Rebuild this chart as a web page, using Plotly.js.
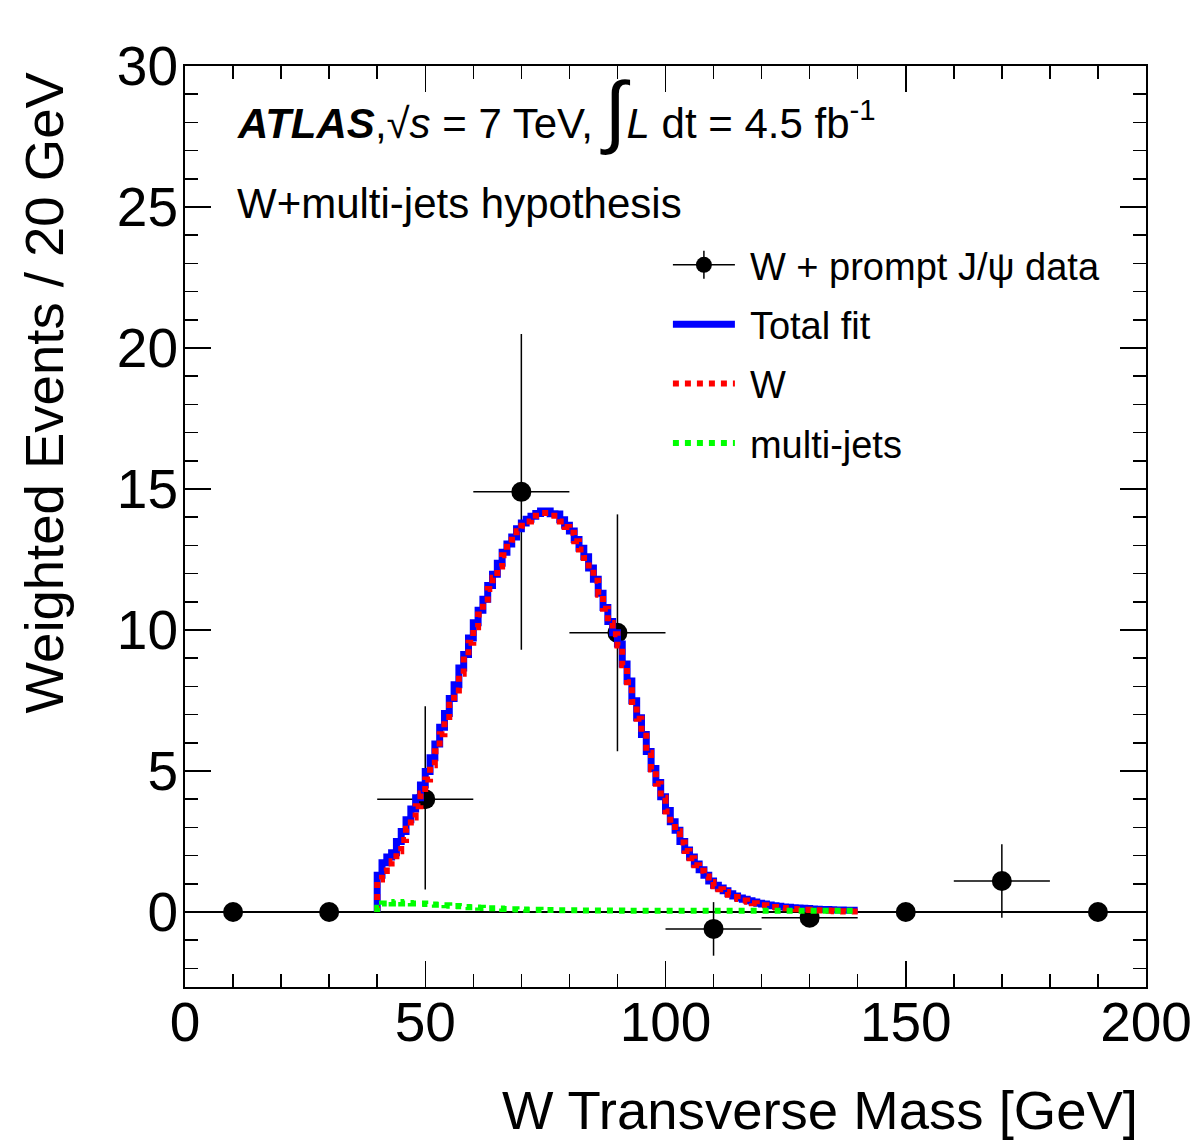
<!DOCTYPE html>
<html>
<head>
<meta charset="utf-8">
<script src="https://cdn.plot.ly/plotly-3.0.1.min.js"></script>
<style>html,body{margin:0;padding:0;background:#fff;}</style>
</head>
<body>
<div id="chart" style="width:1198px;height:1143px;"></div>
<script>
// ---- Data: W + prompt J/psi (weighted events / 20 GeV) ----
const dataMT = [10, 30, 50, 70, 90, 110, 130, 150, 170, 190];
const dataY = [0, 0, 4.0, 14.9, 9.9, -0.6, -0.2, 0, 1.1, 0];
const dataErrUp = [0, 0, 3.3, 5.6, 4.2, 0.95, 0.3, 0, 1.3, 0];
const dataErrDown = [0, 0, 3.2, 5.6, 4.2, 0.95, 0.3, 0, 1.3, 0];
const dataBinHalfWidth = 10;

// ---- Fit templates: 1 GeV bins from 40 to 140 GeV ----
const fitLowEdge = 40;
const fitBinWidth = 1;
const wFit = [
  1.15, 1.45, 1.6, 1.8, 2.15, 2.55, 2.95, 3.35, 3.75, 4.2,
  4.7, 5.2, 5.7, 6.3, 6.8, 7.35, 7.85, 8.45, 8.95, 9.55,
  10.1, 10.55, 10.95, 11.45, 11.85, 12.25, 12.65, 12.95, 13.2, 13.5,
  13.7, 13.85, 13.95, 14.05, 14.15, 14.15, 14.05, 14.05, 13.85, 13.65,
  13.45, 13.15, 12.85, 12.55, 12.15, 11.75, 11.25, 10.75, 10.25, 9.85,
  9.45, 8.75, 8.15, 7.45, 6.85, 6.25, 5.65, 5.05, 4.55, 4.05,
  3.56, 3.16, 2.86, 2.46, 2.16, 1.91, 1.66, 1.46, 1.26, 1.06,
  0.91, 0.81, 0.71, 0.61, 0.53, 0.46, 0.41, 0.36, 0.31, 0.27,
  0.24, 0.21, 0.18, 0.16, 0.14, 0.13, 0.11, 0.1, 0.09, 0.08,
  0.07, 0.06, 0.05, 0.05, 0.04, 0.03, 0.03, 0.02, 0.02, 0.02
];
const mjFit = [
  0.15, 0.3, 0.35, 0.3, 0.35, 0.3, 0.32, 0.3, 0.3, 0.3,
  0.28, 0.27, 0.26, 0.25, 0.24, 0.22, 0.21, 0.2, 0.18, 0.17,
  0.16, 0.15, 0.14, 0.13, 0.13, 0.12, 0.11, 0.1, 0.1, 0.09,
  0.09, 0.08, 0.08, 0.08, 0.07, 0.07, 0.07, 0.06, 0.06, 0.06,
  0.06, 0.06, 0.05, 0.05, 0.05, 0.05, 0.05, 0.05, 0.05, 0.05,
  0.05, 0.04, 0.04, 0.04, 0.04, 0.04, 0.04, 0.04, 0.04, 0.04,
  0.04, 0.04, 0.04, 0.04, 0.04, 0.04, 0.04, 0.04, 0.04, 0.04,
  0.04, 0.04, 0.04, 0.04, 0.04, 0.04, 0.04, 0.04, 0.04, 0.04,
  0.04, 0.04, 0.04, 0.04, 0.04, 0.04, 0.04, 0.04, 0.04, 0.04,
  0.04, 0.04, 0.04, 0.04, 0.04, 0.04, 0.04, 0.04, 0.04, 0.04
];

const xTickVals = [0, 50, 100, 150, 200];
const yTickVals = [0, 5, 10, 15, 20, 25, 30];

// ---- helpers ----
function stepTrace(values) {
  const xs = [fitLowEdge], ys = [0];
  for (let i = 0; i < values.length; i++) {
    xs.push(fitLowEdge + i * fitBinWidth);
    ys.push(values[i]);
  }
  xs.push(fitLowEdge + values.length * fitBinWidth);
  ys.push(values[values.length - 1]);
  return {x: xs, y: ys};
}
const totalFit = wFit.map((v, i) => v + mjFit[i]);

// data points interleaved with gaps so the legend shows a line through the marker
const dX = [], dY = [], dUp = [], dDn = [];
dataMT.forEach((x, i) => {
  dX.push(x); dY.push(dataY[i]); dUp.push(dataErrUp[i]); dDn.push(dataErrDown[i]);
  dX.push(null); dY.push(null); dUp.push(0); dDn.push(0);
});

const FONT = 'Liberation Sans, Arial, Helvetica, sans-serif';

const sTotal = stepTrace(totalFit);
const sW = stepTrace(wFit);
const sMJ = stepTrace(mjFit);

const traces = [
  {
    name: 'W + prompt J/ψ data', x: dX, y: dY, type: 'scatter', mode: 'lines+markers',
    connectgaps: false,
    line: {color: 'black', width: 1.5},
    marker: {color: 'black', size: 20, symbol: 'circle'},
    error_y: {type: 'data', array: dUp, arrayminus: dDn, symmetric: false, width: 0, thickness: 1.5, color: 'black'},
    error_x: {type: 'constant', value: dataBinHalfWidth, width: 0, thickness: 1.5, color: 'black'},
    legendgroup: 'a', hoverinfo: 'x+y'
  },
  {
    name: 'Total fit', x: sTotal.x, y: sTotal.y, type: 'scatter', mode: 'lines',
    line: {color: '#0000ff', width: 7, shape: 'hv'}, legendgroup: 'b'
  },
  {
    name: 'W', x: sW.x, y: sW.y, type: 'scatter', mode: 'lines',
    line: {color: '#ff0000', width: 6, shape: 'hv', dash: 'dot'}, legendgroup: 'c'
  },
  {
    name: 'multi-jets', x: sMJ.x, y: sMJ.y, type: 'scatter', mode: 'lines',
    line: {color: '#00ff00', width: 6, shape: 'hv', dash: 'dot'}, legendgroup: 'd'
  }
];

const layout = {
  width: 1198, height: 1143,
  margin: {l: 185, r: 52, t: 66, b: 156},
  paper_bgcolor: '#fff', plot_bgcolor: '#fff',
  font: {family: FONT, color: 'black'},
  showlegend: true,
  legend: {
    x: 0.5025, y: 0.818, xanchor: 'left', yanchor: 'top',
    font: {family: FONT, size: 38, color: 'black'},
    bgcolor: 'rgba(0,0,0,0)', traceorder: 'grouped', tracegroupgap: 7,
    itemwidth: 72
  },
  xaxis: {
    range: [0, 200], showgrid: false, zeroline: false,
    showline: true, linecolor: 'black', linewidth: 2, mirror: 'ticks',
    ticks: 'inside', ticklen: 26, tickwidth: 1.5, tickcolor: 'black',
    tickvals: xTickVals, tickfont: {family: FONT, size: 55, color: 'black'},
    ticklabelstandoff: -14,
    minor: {dtick: 10, ticks: 'inside', ticklen: 13, tickwidth: 1.5, tickcolor: 'black', showgrid: false},
    fixedrange: true
  },
  yaxis: {
    range: [-2.66, 30], showgrid: false,
    zeroline: true, zerolinecolor: 'black', zerolinewidth: 2.5,
    showline: true, linecolor: 'black', linewidth: 2, mirror: 'ticks',
    ticks: 'inside', ticklen: 26, tickwidth: 1.5, tickcolor: 'black',
    tickvals: yTickVals, tickfont: {family: FONT, size: 55, color: 'black'},
    ticklabelstandoff: -6,
    minor: {dtick: 1, ticks: 'inside', ticklen: 13, tickwidth: 1.5, tickcolor: 'black', showgrid: false},
    fixedrange: true
  },
  annotations: [
    {
      xref: 'paper', yref: 'paper', x: 0.052, y: 0.952, xanchor: 'left', yanchor: 'middle',
      showarrow: false, font: {family: FONT, size: 42, color: 'black'},
      text: '<b><i>ATLAS</i></b>,√<i>s</i> = 7 TeV, <span style="font-size:80px">∫</span><i>L</i> dt = 4.5 fb<sup>-1</sup>'
    },
    {
      xref: 'paper', yref: 'paper', x: 0.052, y: 0.851, xanchor: 'left', yanchor: 'middle',
      showarrow: false, font: {family: FONT, size: 42, color: 'black'},
      text: 'W+multi-jets hypothesis'
    },
    {
      xref: 'paper', yref: 'paper', x: -0.146, y: 0.996, xanchor: 'center', yanchor: 'top',
      textangle: -90, showarrow: false, font: {family: FONT, size: 54.5, color: 'black'},
      text: 'Weighted Events / 20 GeV'
    },
    {
      xref: 'paper', yref: 'paper', x: 0.994, y: -0.134, xanchor: 'right', yanchor: 'middle',
      showarrow: false, font: {family: FONT, size: 54.5, color: 'black'},
      text: 'W Transverse Mass [GeV]'
    }
  ]
};

Plotly.newPlot('chart', traces, layout, {displayModeBar: false, staticPlot: true}).then(function () {
  // widen legend symbols to match the reference
  const SVGNS = 'http://www.w3.org/2000/svg';
  document.querySelectorAll('.legend .traces').forEach(function (tr, idx) {
    tr.querySelectorAll('.legendlines path').forEach(function (p) {
      p.setAttribute('d', 'M5,0h62');
    });
    tr.querySelectorAll('.legendpoints path').forEach(function (p) {
      p.setAttribute('transform', 'translate(36,0)');
    });
    if (idx === 0) {
      const g = tr.querySelector('.legendpoints') || tr;
      const v = document.createElementNS(SVGNS, 'path');
      v.setAttribute('d', 'M36,-14V14');
      v.setAttribute('stroke', 'black');
      v.setAttribute('stroke-width', '1.5');
      g.insertBefore(v, g.firstChild);
    }
  });
});
</script>
</body>
</html>
